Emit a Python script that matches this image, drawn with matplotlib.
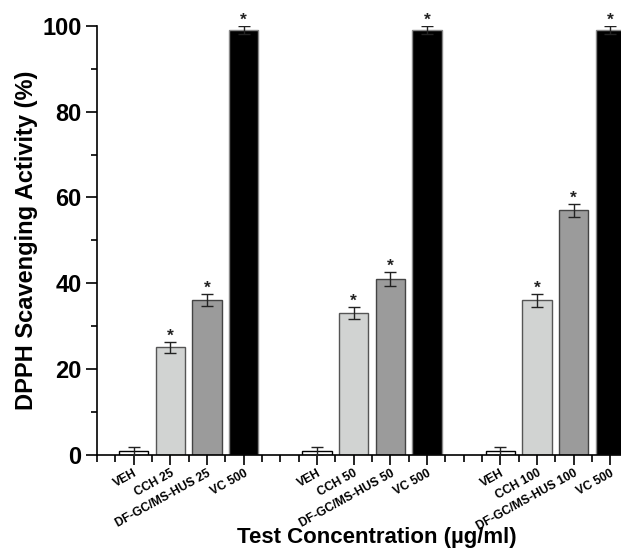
import numpy as np
import matplotlib.pyplot as plt
from matplotlib.transforms import ScaledTranslation

plt.rcParams['font.family'] = ['Liberation Sans', 'DejaVu Sans']
plt.rcParams['font.weight'] = 'bold'

# bar labels and values
labels = ['VEH', 'CCH 25', 'DF-GC/MS-HUS 25', 'VC 500',
          'VEH', 'CCH 50', 'DF-GC/MS-HUS 50', 'VC 500',
          'VEH', 'CCH 100', 'DF-GC/MS-HUS 100', 'VC 500']
positions = [1, 2, 3, 4, 6, 7, 8, 9, 11, 12, 13, 14]
values = [0.8, 25, 36, 99.1, 0.8, 33, 41, 99.1, 0.8, 36, 57, 99.1]
errors = [1.0, 1.3, 1.4, 0.9, 1.0, 1.4, 1.6, 0.9, 1.0, 1.5, 1.5, 0.9]
significant = [False, True, True, True] * 3

face = ['white', '#d1d3d2', '#9b9b9b', 'black'] * 3
edge = ['black', '#555555', '#444444', '#888888'] * 3

fig = plt.figure(figsize=(6.21, 5.53), dpi=100)
ax = fig.add_axes([0.156, 0.178, 0.844, 0.775])

ax.bar(positions, values, width=0.8, color=face, edgecolor=edge, linewidth=1.0, zorder=2)
ax.errorbar(positions, values, yerr=errors, fmt='none', ecolor='#222222',
            elinewidth=1.0, capsize=4, capthick=1.0, zorder=3)

for x, v, e, s in zip(positions, values, errors, significant):
    if s:
        ax.text(x, v + e - 0.4, '*', ha='center', va='bottom', fontsize=12.5,
                fontweight='bold', color='#222222', clip_on=False)

ax.set_xlim(0, 14.29)
ax.set_ylim(0, 100)
ax.set_xticks(positions)
ax.set_xticklabels(labels, rotation=29, ha='right', rotation_mode='anchor',
                   fontsize=8.7, fontweight='bold')
shift = ScaledTranslation(8.5 / 72, 0, fig.dpi_scale_trans)
for t in ax.get_xticklabels():
    t.set_transform(t.get_transform() + shift)
ax.set_xticks(np.arange(0, 14.5, 0.5), minor=True)
ax.set_yticks(np.arange(0, 101, 20))
ax.set_yticks(np.arange(10, 100, 20), minor=True)
ax.tick_params(axis='y', which='major', labelsize=17, length=8, width=1.2, pad=3)
ax.tick_params(axis='y', which='minor', length=4, width=1.2)
ax.tick_params(axis='x', which='major', length=7, width=1.2, pad=2)
ax.tick_params(axis='x', which='minor', length=5, width=1.2)
for t in ax.get_yticklabels():
    t.set_fontweight('bold')

ax.spines['top'].set_visible(False)
ax.spines['right'].set_visible(False)
ax.spines['left'].set_linewidth(1.2)
ax.spines['bottom'].set_linewidth(1.2)

ax.set_ylabel('DPPH Scavenging Activity (%)', fontsize=17, fontweight='bold', labelpad=3)
ax.set_xlabel('Test Concentration (µg/ml)', fontsize=16, fontweight='bold')
ax.xaxis.set_label_coords(0.534, -0.170)

fig.savefig('out.png', dpi=100)
